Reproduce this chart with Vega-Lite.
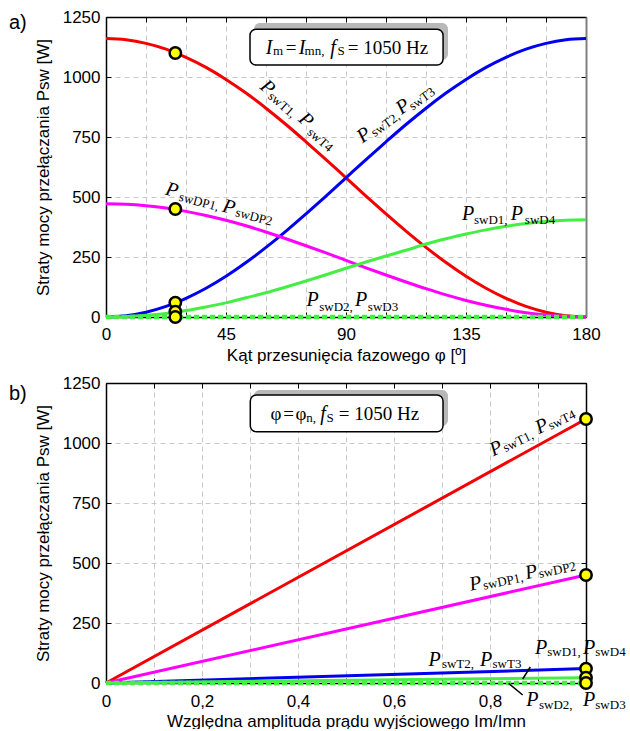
{
  "$schema": "https://vega.github.io/schema/vega-lite/v6.json",
  "background": "white",
  "padding": {"left": 8, "top": 8, "right": 0, "bottom": 0},
  "spacing": 11,
  "config": {
    "view": {"stroke": null},
    "font": "Liberation Sans",
    "axis": {
      "labelFont": "Liberation Sans", "labelFontSize": 17, "labelColor": "#000",
      "titleFont": "Liberation Sans", "titleFontSize": 17, "titleFontWeight": "normal", "titleColor": "#000",
      "domainColor": "#000", "tickColor": "#000", "gridColor": "#c8c8c8", "gridDash": [5, 4], "gridWidth": 1,
      "labelOverlap": false, "labelFlush": false
    }
  },
  "datasets": {
    "top": [
      {"x":0,"y":1160,"s":"T14"},{"x":7.5,"y":1155,"s":"T14"},{"x":15,"y":1140,"s":"T14"},{"x":22.5,"y":1116,"s":"T14"},{"x":30,"y":1082,"s":"T14"},{"x":37.5,"y":1040,"s":"T14"},{"x":45,"y":990,"s":"T14"},{"x":52.5,"y":933,"s":"T14"},{"x":60,"y":870,"s":"T14"},{"x":67.5,"y":802,"s":"T14"},{"x":75,"y":730,"s":"T14"},{"x":82.5,"y":656,"s":"T14"},{"x":90,"y":580,"s":"T14"},{"x":97.5,"y":504,"s":"T14"},{"x":105,"y":430,"s":"T14"},{"x":112.5,"y":358,"s":"T14"},{"x":120,"y":290,"s":"T14"},{"x":127.5,"y":227,"s":"T14"},{"x":135,"y":170,"s":"T14"},{"x":142.5,"y":120,"s":"T14"},{"x":150,"y":78,"s":"T14"},{"x":157.5,"y":44,"s":"T14"},{"x":165,"y":20,"s":"T14"},{"x":172.5,"y":5,"s":"T14"},{"x":180,"y":0,"s":"T14"},
      {"x":0,"y":0,"s":"T23"},{"x":7.5,"y":5,"s":"T23"},{"x":15,"y":20,"s":"T23"},{"x":22.5,"y":44,"s":"T23"},{"x":30,"y":78,"s":"T23"},{"x":37.5,"y":120,"s":"T23"},{"x":45,"y":170,"s":"T23"},{"x":52.5,"y":227,"s":"T23"},{"x":60,"y":290,"s":"T23"},{"x":67.5,"y":358,"s":"T23"},{"x":75,"y":430,"s":"T23"},{"x":82.5,"y":504,"s":"T23"},{"x":90,"y":580,"s":"T23"},{"x":97.5,"y":656,"s":"T23"},{"x":105,"y":730,"s":"T23"},{"x":112.5,"y":802,"s":"T23"},{"x":120,"y":870,"s":"T23"},{"x":127.5,"y":933,"s":"T23"},{"x":135,"y":990,"s":"T23"},{"x":142.5,"y":1040,"s":"T23"},{"x":150,"y":1082,"s":"T23"},{"x":157.5,"y":1116,"s":"T23"},{"x":165,"y":1140,"s":"T23"},{"x":172.5,"y":1155,"s":"T23"},{"x":180,"y":1160,"s":"T23"},
      {"x":0,"y":472,"s":"DP"},{"x":7.5,"y":470,"s":"DP"},{"x":15,"y":464,"s":"DP"},{"x":22.5,"y":454,"s":"DP"},{"x":30,"y":440,"s":"DP"},{"x":37.5,"y":423,"s":"DP"},{"x":45,"y":403,"s":"DP"},{"x":52.5,"y":380,"s":"DP"},{"x":60,"y":354,"s":"DP"},{"x":67.5,"y":326,"s":"DP"},{"x":75,"y":297,"s":"DP"},{"x":82.5,"y":267,"s":"DP"},{"x":90,"y":236,"s":"DP"},{"x":97.5,"y":205,"s":"DP"},{"x":105,"y":175,"s":"DP"},{"x":112.5,"y":146,"s":"DP"},{"x":120,"y":118,"s":"DP"},{"x":127.5,"y":92,"s":"DP"},{"x":135,"y":69,"s":"DP"},{"x":142.5,"y":49,"s":"DP"},{"x":150,"y":32,"s":"DP"},{"x":157.5,"y":18,"s":"DP"},{"x":165,"y":8,"s":"DP"},{"x":172.5,"y":2,"s":"DP"},{"x":180,"y":0,"s":"DP"},
      {"x":0,"y":0,"s":"D14"},{"x":7.5,"y":2,"s":"D14"},{"x":15,"y":7,"s":"D14"},{"x":22.5,"y":15,"s":"D14"},{"x":30,"y":27,"s":"D14"},{"x":37.5,"y":42,"s":"D14"},{"x":45,"y":59,"s":"D14"},{"x":52.5,"y":80,"s":"D14"},{"x":60,"y":101,"s":"D14"},{"x":67.5,"y":125,"s":"D14"},{"x":75,"y":150,"s":"D14"},{"x":82.5,"y":176,"s":"D14"},{"x":90,"y":203,"s":"D14"},{"x":97.5,"y":229,"s":"D14"},{"x":105,"y":254,"s":"D14"},{"x":112.5,"y":278,"s":"D14"},{"x":120,"y":304,"s":"D14"},{"x":127.5,"y":326,"s":"D14"},{"x":135,"y":346,"s":"D14"},{"x":142.5,"y":363,"s":"D14"},{"x":150,"y":378,"s":"D14"},{"x":157.5,"y":390,"s":"D14"},{"x":165,"y":398,"s":"D14"},{"x":172.5,"y":403,"s":"D14"},{"x":180,"y":405,"s":"D14"}
    ],
    "topd": [{"x":0,"y":0},{"x":180,"y":0}],
    "topm": [{"x":26,"y":1100},{"x":26,"y":450},{"x":26,"y":60},{"x":26,"y":22},{"x":26,"y":0}],
    "topbox": [{"x":54.0,"x2":126.4,"y":1199,"y2":1050}],
    "topshadow": [{"x":55.5,"x2":128.25,"y":1225,"y2":1071}],
    "bot": [
      {"x":0,"y":0,"s":"T14"},{"x":1,"y":1100,"s":"T14"},
      {"x":0,"y":0,"s":"T23"},{"x":1,"y":60,"s":"T23"},
      {"x":0,"y":0,"s":"DP"},{"x":1,"y":450,"s":"DP"},
      {"x":0,"y":0,"s":"D14"},{"x":1,"y":22,"s":"D14"}
    ],
    "botd": [{"x":0,"y":0},{"x":1,"y":0}],
    "botm": [{"x":1,"y":1100},{"x":1,"y":450},{"x":1,"y":60},{"x":1,"y":22},{"x":1,"y":0}],
    "botbox": [{"x":0.3006,"x2":0.7021,"y":1200,"y2":1047}],
    "botshadow": [{"x":0.3083,"x2":0.7125,"y":1221,"y2":1071}],
    "botlead": [{"x":0.8681,"y":16.7,"g":"a"},{"x":0.8840,"y":66.7,"g":"a"},{"x":0.8389,"y":-1.4,"g":"b"},{"x":0.8681,"y":-50,"g":"b"}]
  },
  "vconcat": [
    {
      "width": 480, "height": 300,
      "encoding": {
        "x": {"field": "x", "type": "quantitative", "scale": {"domain": [0, 180], "nice": false, "zero": false}, "axis": null},
        "y": {"field": "y", "type": "quantitative", "scale": {"domain": [0, 1250], "nice": false}, "axis": null}
      },
      "resolve": {"axis": {"x": "independent", "y": "independent"}},
      "layer": [
        {"data": {"name": "topshadow"}, "mark": {"type": "rect", "fill": "#b8b8b8", "cornerRadius": 6},
         "encoding": {"x2": {"field": "x2"}, "y2": {"field": "y2"}}},
        {"data": {"name": "topbox"}, "mark": {"type": "rect", "fill": "#ffffff", "stroke": "#000", "strokeWidth": 1.5, "cornerRadius": 6},
         "encoding": {"x2": {"field": "x2"}, "y2": {"field": "y2"}}},
        {"data": {"name": "top"}, "mark": {"type": "line", "strokeWidth": 3, "interpolate": "monotone"},
         "encoding": {
           "x": {"field": "x", "type": "quantitative", "scale": {"domain": [0, 180], "nice": false, "zero": false},
                 "axis": {"orient": "bottom", "values": [0,15,30,45,60,75,90,105,120,135,150,165,180],
                          "labelExpr": "datum.value % 45 == 0 ? datum.label : ''", "grid": true, "tickSize": -5,
                          "labelPadding": 14, "domainWidth": 1.5, "title": "Kąt przesunięcia fazowego φ [º]", "titlePadding": 5}},
           "y": {"field": "y", "type": "quantitative", "scale": {"domain": [0, 1250], "nice": false},
                 "axis": {"orient": "left", "values": [0,250,500,750,1000,1250], "format": "d", "grid": true, "tickSize": -5,
                          "labelPadding": 11, "domainWidth": 1.5, "title": "Straty mocy przełączania Psw [W]", "titlePadding": 10}},
           "color": {"field": "s", "type": "nominal", "legend": null,
                     "scale": {"domain": ["T14", "T23", "DP", "D14"], "range": ["#f50000", "#0000f0", "#ff00ff", "#44ee44"]}},
           "order": {"field": "x", "type": "quantitative"}
         }},
        {"data": {"name": "topd"}, "mark": {"type": "line", "strokeWidth": 4.5, "strokeDash": [5, 3], "color": "#44ee44"},
         "encoding": {
           "x": {"field": "x", "type": "quantitative", "scale": {"domain": [0, 180], "nice": false, "zero": false},
                 "axis": {"orient": "top", "values": [0,15,30,45,60,75,90,105,120,135,150,165,180], "labels": false,
                          "grid": false, "tickSize": -5, "domainWidth": 1.5, "title": null}},
           "y": {"field": "y", "type": "quantitative", "scale": {"domain": [0, 1250], "nice": false},
                 "axis": {"orient": "right", "values": [0,250,500,750,1000,1250], "labels": false, "grid": false,
                          "tickSize": -5, "domainWidth": 2, "domainColor": "#808080", "title": null}}
         }},
        {"data": {"name": "topm"}, "mark": {"type": "point", "shape": "circle", "filled": true, "fill": "#ffff00", "stroke": "#000", "strokeWidth": 2.5, "size": 130, "opacity": 1}},
        {"data": {"values": [{"x":60.56,"y":956.3,"t":"P"},{"x":75.0,"y":820.8,"t":"P"}]},
         "mark": {"type": "text", "font": "Liberation Serif", "fontStyle": "italic", "fontSize": 20, "angle": 41, "align": "center", "baseline": "middle"},
         "encoding": {"text": {"field": "t"}}},
        {"data": {"values": [{"x":66.0,"y":883.3,"t":"swT1,"},{"x":80.25,"y":737.5,"t":"swT4"}]},
         "mark": {"type": "text", "font": "Liberation Serif", "fontSize": 13, "angle": 41, "align": "center", "baseline": "middle"},
         "encoding": {"text": {"field": "t"}}},
        {"data": {"values": [{"x":96.75,"y":758.3,"t":"P"},{"x":111.38,"y":877.1,"t":"P"}]},
         "mark": {"type": "text", "font": "Liberation Serif", "fontStyle": "italic", "fontSize": 20, "angle": -36, "align": "center", "baseline": "middle"},
         "encoding": {"text": {"field": "t"}}},
        {"data": {"values": [{"x":104.81,"y":802.1,"t":"swT2,"},{"x":118.5,"y":908.3,"t":"swT3"}]},
         "mark": {"type": "text", "font": "Liberation Serif", "fontSize": 13, "angle": -36, "align": "center", "baseline": "middle"},
         "encoding": {"text": {"field": "t"}}},
        {"data": {"values": [{"x":24.75,"y":529.2,"t":"P"},{"x":46.13,"y":458.3,"t":"P"}]},
         "mark": {"type": "text", "font": "Liberation Serif", "fontStyle": "italic", "fontSize": 20, "angle": 15, "align": "center", "baseline": "middle"},
         "encoding": {"text": {"field": "t"}}},
        {"data": {"values": [{"x":34.88,"y":479.2,"t":"swDP1,"},{"x":55.5,"y":416.7,"t":"swDP2"}]},
         "mark": {"type": "text", "font": "Liberation Serif", "fontSize": 13, "angle": 15, "align": "center", "baseline": "middle"},
         "encoding": {"text": {"field": "t"}}},
        {"data": {"values": [{"x":135.75,"y":427.1,"t":"P"},{"x":154.1,"y":427.1,"t":"P"},{"x":77.44,"y":70.8,"t":"P"},{"x":95.63,"y":70.8,"t":"P"},{"x":61.13,"y":1122.9,"t":"I"},{"x":73.5,"y":1122.9,"t":"I"},{"x":85.13,"y":1122.9,"t":"f"}]},
         "mark": {"type": "text", "font": "Liberation Serif", "fontStyle": "italic", "fontSize": 20, "align": "center", "baseline": "middle"},
         "encoding": {"text": {"field": "t"}}},
        {"data": {"values": [{"x":144.3,"y":402.1,"t":"swD1,"},{"x":162.75,"y":402.1,"t":"swD4"},{"x":86.25,"y":43.75,"t":"swD2,"},{"x":103.88,"y":43.75,"t":"swD3"},{"x":64.5,"y":1106.3,"t":"m"},{"x":78.19,"y":1106.3,"t":"mn,"},{"x":88.13,"y":1106.3,"t":"S"}]},
         "mark": {"type": "text", "font": "Liberation Serif", "fontSize": 13, "align": "center", "baseline": "middle"},
         "encoding": {"text": {"field": "t"}}},
        {"data": {"values": [{"x":69.375,"y":1122.9,"t":"="},{"x":105.75,"y":1122.9,"t":"= 1050 Hz"}]},
         "mark": {"type": "text", "font": "Liberation Serif", "fontSize": 19, "align": "center", "baseline": "middle"},
         "encoding": {"text": {"field": "t"}}},
        {"data": {"values": [{"x":-36.4,"y":1223,"t":"a)"}]},
         "mark": {"type": "text", "font": "Liberation Sans", "fontSize": 20, "align": "left", "baseline": "middle"},
         "encoding": {"text": {"field": "t"}}}
      ]
    },
    {
      "width": 480, "height": 300,
      "encoding": {
        "x": {"field": "x", "type": "quantitative", "scale": {"domain": [0, 1], "nice": false, "zero": false}, "axis": null},
        "y": {"field": "y", "type": "quantitative", "scale": {"domain": [0, 1250], "nice": false}, "axis": null}
      },
      "resolve": {"axis": {"x": "independent", "y": "independent"}},
      "layer": [
        {"data": {"name": "botshadow"}, "mark": {"type": "rect", "fill": "#b8b8b8", "cornerRadius": 6},
         "encoding": {"x2": {"field": "x2"}, "y2": {"field": "y2"}}},
        {"data": {"name": "botbox"}, "mark": {"type": "rect", "fill": "#ffffff", "stroke": "#000", "strokeWidth": 1.5, "cornerRadius": 6},
         "encoding": {"x2": {"field": "x2"}, "y2": {"field": "y2"}}},
        {"data": {"name": "bot"}, "mark": {"type": "line", "strokeWidth": 3},
         "encoding": {
           "x": {"field": "x", "type": "quantitative", "scale": {"domain": [0, 1], "nice": false, "zero": false},
                 "axis": {"orient": "bottom", "values": [0,0.1,0.2,0.3,0.4,0.5,0.6,0.7,0.8,0.9,1],
                          "labelExpr": "datum.value == 0 ? '0' : ((round(datum.value*10) % 2 == 0 && datum.value < 0.95) ? replace(format(datum.value, '.1f'), '.', ',') : '')",
                          "grid": true, "tickSize": -5, "labelPadding": 15, "domainWidth": 1.5,
                          "title": "Względna amplituda prądu wyjściowego Im/Imn", "titlePadding": 4}},
           "y": {"field": "y", "type": "quantitative", "scale": {"domain": [0, 1250], "nice": false},
                 "axis": {"orient": "left", "values": [0,250,500,750,1000,1250], "format": "d", "grid": true, "tickSize": -5,
                          "labelPadding": 11, "domainWidth": 1.5, "title": "Straty mocy przełączania Psw [W]", "titlePadding": 10}},
           "color": {"field": "s", "type": "nominal", "legend": null,
                     "scale": {"domain": ["T14", "T23", "DP", "D14"], "range": ["#f50000", "#0000f0", "#ff00ff", "#44ee44"]}},
           "order": {"field": "x", "type": "quantitative"}
         }},
        {"data": {"name": "botd"}, "mark": {"type": "line", "strokeWidth": 4.5, "strokeDash": [5, 3], "color": "#44ee44"},
         "encoding": {
           "x": {"field": "x", "type": "quantitative", "scale": {"domain": [0, 1], "nice": false, "zero": false},
                 "axis": {"orient": "top", "values": [0,0.1,0.2,0.3,0.4,0.5,0.6,0.7,0.8,0.9,1], "labels": false,
                          "grid": false, "tickSize": -5, "domainWidth": 1.5, "title": null}},
           "y": {"field": "y", "type": "quantitative", "scale": {"domain": [0, 1250], "nice": false},
                 "axis": {"orient": "right", "values": [0,250,500,750,1000,1250], "labels": false, "grid": false,
                          "tickSize": -5, "domainWidth": 1.5, "title": null}}
         }},
        {"data": {"name": "botlead"}, "mark": {"type": "line", "color": "#000", "strokeWidth": 1.5},
         "encoding": {"detail": {"field": "g"}}},
        {"data": {"name": "botm"}, "mark": {"type": "point", "shape": "circle", "filled": true, "fill": "#ffff00", "stroke": "#000", "strokeWidth": 2.5, "size": 130, "opacity": 1}},
        {"data": {"values": [{"x":0.8125,"y":977.1,"t":"P"},{"x":0.9079,"y":1070,"t":"P"}]},
         "mark": {"type": "text", "font": "Liberation Serif", "fontStyle": "italic", "fontSize": 20, "angle": -26, "align": "center", "baseline": "middle"},
         "encoding": {"text": {"field": "t"}}},
        {"data": {"values": [{"x":0.8588,"y":1006.2,"t":"swT1,"},{"x":0.9498,"y":1095,"t":"swT4"}]},
         "mark": {"type": "text", "font": "Liberation Serif", "fontSize": 13, "angle": -26, "align": "center", "baseline": "middle"},
         "encoding": {"text": {"field": "t"}}},
        {"data": {"values": [{"x":0.7698,"y":414.6,"t":"P"},{"x":0.8858,"y":462.1,"t":"P"}]},
         "mark": {"type": "text", "font": "Liberation Serif", "fontStyle": "italic", "fontSize": 20, "angle": -12, "align": "center", "baseline": "middle"},
         "encoding": {"text": {"field": "t"}}},
        {"data": {"values": [{"x":0.8275,"y":422.1,"t":"swDP1,"},{"x":0.9404,"y":470,"t":"swDP2"}]},
         "mark": {"type": "text", "font": "Liberation Serif", "fontSize": 13, "angle": -12, "align": "center", "baseline": "middle"},
         "encoding": {"text": {"field": "t"}}},
        {"data": {"values": [{"x":0.6844,"y":95.8,"t":"P"},{"x":0.7917,"y":95.8,"t":"P"},{"x":0.90625,"y":147.9,"t":"P"},{"x":1.00625,"y":147.9,"t":"P"},{"x":0.8885,"y":-72.9,"t":"P"},{"x":1.00625,"y":-72.9,"t":"P"},{"x":0.4521,"y":1122.9,"t":"f"}]},
         "mark": {"type": "text", "font": "Liberation Serif", "fontStyle": "italic", "fontSize": 20, "align": "center", "baseline": "middle"},
         "encoding": {"text": {"field": "t"}}},
        {"data": {"values": [{"x":0.7333,"y":81.25,"t":"swT2,"},{"x":0.8354,"y":81.25,"t":"swT3"},{"x":0.9542,"y":131.25,"t":"swD1,"},{"x":1.0510,"y":131.25,"t":"swD4"},{"x":0.9371,"y":-91.7,"t":"swD2,"},{"x":1.0510,"y":-91.7,"t":"swD3"},{"x":0.4271,"y":1104.2,"t":"n,"},{"x":0.4667,"y":1104.2,"t":"S"}]},
         "mark": {"type": "text", "font": "Liberation Serif", "fontSize": 13, "align": "center", "baseline": "middle"},
         "encoding": {"text": {"field": "t"}}},
        {"data": {"values": [{"x":0.3542,"y":1122.9,"t":"φ"},{"x":0.3802,"y":1122.9,"t":"="},{"x":0.40625,"y":1122.9,"t":"φ"},{"x":0.56875,"y":1122.9,"t":"= 1050 Hz"}]},
         "mark": {"type": "text", "font": "Liberation Serif", "fontSize": 19, "align": "center", "baseline": "middle"},
         "encoding": {"text": {"field": "t"}}},
        {"data": {"values": [{"x":-0.2021,"y":1206,"t":"b)"}]},
         "mark": {"type": "text", "font": "Liberation Sans", "fontSize": 20, "align": "left", "baseline": "middle"},
         "encoding": {"text": {"field": "t"}}}
      ]
    }
  ]
}
